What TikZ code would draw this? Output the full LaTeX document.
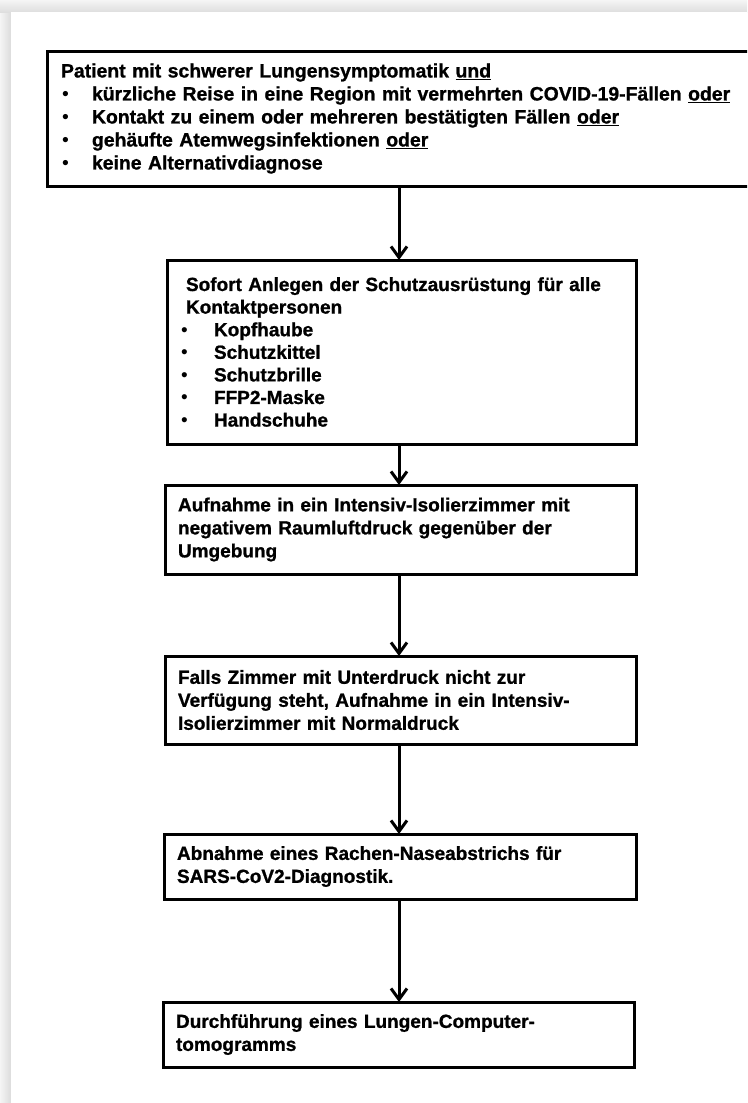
\documentclass[tikz,border=0pt]{standalone}
\usepackage{fontspec}
\setmainfont{Liberation Sans}[BoldFeatures={FakeBold=1}]
\usetikzlibrary{arrows.meta}
\newcommand\ulw[1]{\setbox0\hbox{#1}\rlap{\rule[-3pt]{\wd0}{1.8pt}}\box0}
\newcommand\bul[1]{\makebox[#1][l]{\hspace*{1pt}{\mdseries\textbullet}}}
\begin{document}
\begin{tikzpicture}[x=1pt,y=-1pt,
  box/.style={draw=black,line width=3pt,anchor=north west,outer sep=0pt,
    align=left,font=\bfseries\fontsize{19}{23}\selectfont},
  arr/.style={line width=3pt,-{Straight Barb[length=11pt,width=16pt]}}]
\useasboundingbox (0,0) rectangle (747,1103);
\clip (0,0) rectangle (747,1103);
% page background with shadow
\fill[gray!18] (0,0) rectangle (747,1103);
\shade[left color=gray!8,right color=gray!28] (0,12) rectangle (11,1103);
\shade[top color=gray!8,bottom color=gray!26] (0,0) rectangle (747,12);
\fill[white] (11,12) rectangle (747,1103);
% boxes
\node[box,minimum width=713pt,minimum height=135pt,inner xsep=14pt,text width=685pt,
  font=\bfseries\fontsize{19.4}{23}\selectfont] (b1) at (47,51)
 {Patient mit schwerer Lungensymptomatik \ulw{und}\\
  \bul{31pt}kürzliche Reise in eine Region mit vermehrten COVID-19-Fällen \ulw{oder}\\
  \bul{31pt}Kontakt zu einem oder mehreren bestätigten Fällen \ulw{oder}\\
  \bul{31pt}gehäufte Atemwegsinfektionen \ulw{oder}\\
  \bul{31pt}keine Alternativdiagnose};
\node[box,minimum width=469pt,minimum height=184pt,inner xsep=19pt,text width=431pt,
  font=\bfseries\fontsize{19}{22.6}\selectfont] (b2) at (167,260)
 {Sofort Anlegen der Schutzausrüstung für alle\\
  Kontaktpersonen\\
  \hspace*{-6pt}\bul{34pt}Kopfhaube\\
  \hspace*{-6pt}\bul{34pt}Schutzkittel\\
  \hspace*{-6pt}\bul{34pt}Schutzbrille\\
  \hspace*{-6pt}\bul{34pt}FFP2-Maske\\
  \hspace*{-6pt}\bul{34pt}Handschuhe};
\node[box,minimum width=471pt,minimum height=89pt,inner xsep=13pt,text width=445pt] (b3) at (165,485)
 {Aufnahme in ein Intensiv-Isolierzimmer mit\\
  negativem Raumluftdruck gegenüber der\\
  Umgebung};
\node[box,minimum width=471pt,minimum height=88pt,inner xsep=13pt,text width=445pt] (b4) at (165,656)
 {Falls Zimmer mit Unterdruck nicht zur\\
  Verfügung steht, Aufnahme in ein Intensiv-\\
  Isolierzimmer mit Normaldruck};
\node[box,minimum width=472pt,minimum height=65pt,inner xsep=13pt,text width=446pt] (b5) at (164,834)
 {Abnahme eines Rachen-Naseabstrichs für\\
  SARS-CoV2-Diagnostik.};
\node[box,minimum width=471pt,minimum height=65pt,inner xsep=13pt,text width=445pt] (b6) at (163,1002)
 {Durchführung eines Lungen-Computer-\\
  tomogramms};
% connectors
\coordinate (ax) at (399,0);
\draw[arr] (b1.south -| ax) -- (b2.north -| ax);
\draw[arr] (b2.south -| ax) -- (b3.north -| ax);
\draw[arr] (b3.south -| ax) -- (b4.north -| ax);
\draw[arr] (b4.south -| ax) -- (b5.north -| ax);
\draw[arr] (b5.south -| ax) -- (b6.north -| ax);
\end{tikzpicture}
\end{document}
